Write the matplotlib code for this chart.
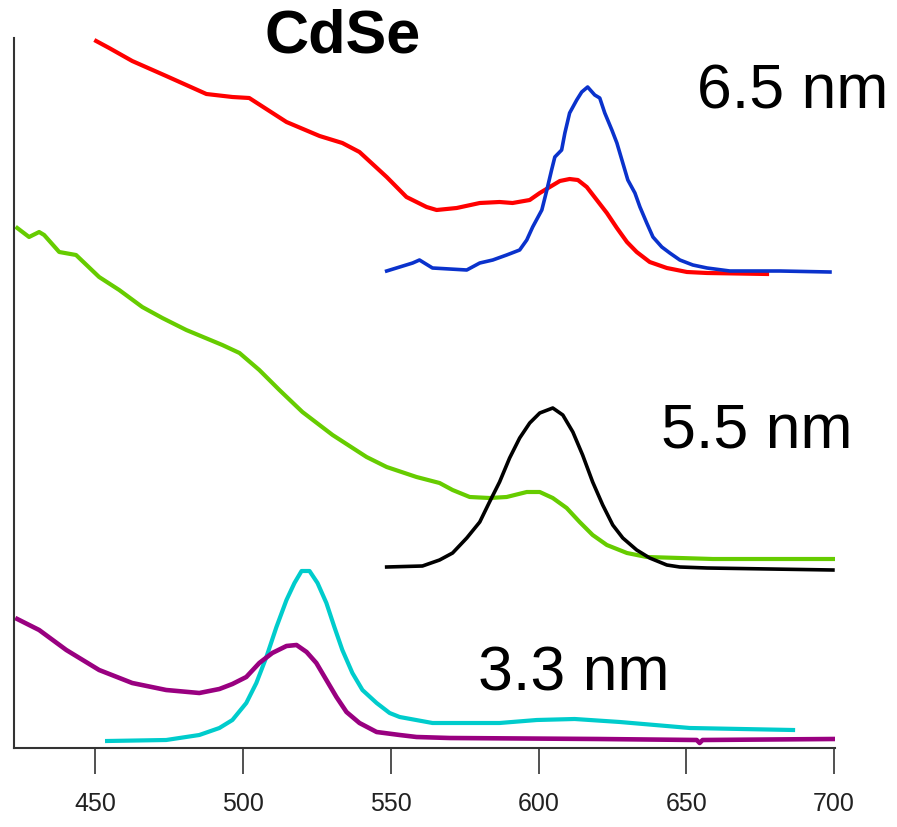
import numpy as np
import matplotlib.pyplot as plt

plt.rcParams['font.family'] = ['Liberation Sans', 'DejaVu Sans']

# 6.5 nm: absorbance (red) and emission (blue)
red_x = [450.3, 454.7, 462.5, 474.0, 487.6, 496.4, 502.1, 514.7, 525.9, 533.6,
         539.4, 548.6, 555.3, 562.1, 565.5, 572.3, 580.1, 586.8, 591.2, 597.0,
         600.4, 603.8, 607.2, 610.5, 613.3, 616.3, 619.7, 623.1, 626.5, 629.9,
         633.2, 637.6, 643.4, 650.2, 657.0, 677.3]
red_y = [707, 700, 687, 672, 654, 651, 650, 626, 612, 605,
         596, 571, 551, 541, 538, 540, 545, 546, 545, 548,
         555, 561, 567, 569, 568, 561, 548, 535, 520, 506,
         496, 486, 480, 476, 475, 474]

blue_x = [548.6, 557.4, 559.7, 564.1, 575.7, 580.1, 584.5, 589.2, 593.6, 596.0,
          598.0, 601.1, 602.8, 604.4, 605.5, 607.8, 608.9, 610.5, 612.9, 614.6,
          616.6, 619.0, 620.7, 622.4, 624.8, 626.5, 628.5, 630.2, 632.6, 634.3,
          636.6, 638.7, 641.7, 644.4, 647.8, 652.2, 657.0, 664.7, 681.7, 698.6]
blue_y = [477, 485, 488, 480, 478, 485, 488, 493, 498, 508,
          521, 538, 558, 578, 591, 598, 615, 635, 648, 656,
          661, 653, 650, 635, 618, 605, 585, 568, 555, 541,
          525, 511, 501, 495, 488, 483, 480, 477, 477, 476]

# 5.5 nm: absorbance (green) and emission (black)
green_x = [423.6, 427.6, 431.0, 432.7, 437.8, 443.5, 451.3, 458.1, 465.9, 472.7,
           480.8, 493.0, 498.8, 505.5, 512.3, 520.1, 530.3, 541.8, 548.6, 558.7,
           566.5, 570.9, 576.7, 583.4, 589.2, 596.0, 600.4, 604.8, 609.5, 613.9,
           618.3, 623.1, 629.9, 636.6, 647.8, 659.0, 699.6]
green_y = [520, 511, 516, 513, 496, 493, 471, 458, 441, 430,
           418, 403, 395, 378, 358, 336, 313, 291, 281, 271,
           265, 258, 251, 250, 251, 256, 256, 250, 240, 226,
           213, 203, 195, 191, 190, 189, 189]

black_x = [548.6, 560.7, 566.5, 570.9, 575.7, 580.1, 583.4, 586.8, 590.2, 593.6,
           597.0, 600.4, 604.8, 608.2, 611.6, 614.9, 618.3, 621.7, 625.1, 628.5,
           633.2, 637.6, 643.4, 647.8, 657.0, 699.6]
black_y = [181, 182, 188, 195, 210, 226, 246, 266, 290, 310,
           325, 335, 340, 333, 316, 293, 266, 243, 223, 210,
           198, 190, 183, 181, 180, 178]

# 3.3 nm: absorbance (purple) and emission (cyan)
purple_x = [423.6, 431.0, 440.2, 451.3, 462.5, 474.0, 485.2, 492.0, 496.4, 501.1,
            505.5, 509.9, 514.7, 518.1, 521.5, 524.8, 528.2, 531.6, 535.0, 539.4,
            545.2, 553.0, 558.7, 569.9, 620.0, 653.5, 654.5, 655.5, 699.6]
purple_y = [129, 118, 98, 78, 65, 58, 55, 59, 64, 71,
            85, 95, 102, 103, 96, 85, 68, 51, 36, 25,
            16, 13, 11, 10, 9, 8, 5, 8, 9]

cyan_x = [454.0, 474.0, 485.2, 492.0, 496.4, 501.1, 504.5, 507.9, 511.3, 514.7,
          517.4, 519.8, 522.5, 525.2, 528.2, 530.9, 533.6, 537.0, 540.4, 545.2,
          549.6, 553.0, 564.1, 586.8, 599.4, 612.2, 627.5, 651.2, 686.1]
cyan_y = [7, 8, 13, 20, 28, 45, 65, 91, 121, 148,
          165, 177, 177, 165, 145, 121, 98, 75, 58, 45,
          35, 31, 25, 25, 28, 29, 26, 20, 18]

ticks = [450, 500, 550, 600, 650, 700]

fig = plt.figure(figsize=(8.97, 8.27), dpi=100)
ax = fig.add_axes([14 / 897, 79 / 827, 821 / 897, 710 / 827])

ax.plot(red_x, red_y, color='#ff0000', lw=3.0, clip_on=False)
ax.plot(blue_x, blue_y, color='#0a32cc', lw=2.6, clip_on=False)
ax.plot(green_x, green_y, color='#66cc00', lw=3.0)
ax.plot(black_x, black_y, color='black', lw=2.6)
ax.plot(cyan_x, cyan_y, color='#00cccc', lw=3.0)
ax.plot(purple_x, purple_y, color='#990080', lw=3.3)

ax.set_xlim(422.5, 700.3)
ax.set_ylim(0, 710)

for s in ['top', 'right']:
    ax.spines[s].set_visible(False)
for s in ['left', 'bottom']:
    ax.spines[s].set_color('#333333')
    ax.spines[s].set_linewidth(1.5)

ax.set_yticks([])
ax.set_xticks(ticks)
ax.set_xticklabels([str(t) for t in ticks], fontsize=18, color='#222222')
ax.tick_params(axis='x', direction='out', length=19, width=1.2,
               color='#333333', pad=13)

ax.text(343 / 897, 1 - 37 / 827, 'CdSe', transform=fig.transFigure,
        ha='center', va='center', fontsize=44, fontweight='bold')
ax.text(793 / 897, 1 - 92 / 827, '6.5 nm', transform=fig.transFigure,
        ha='center', va='center', fontsize=45)
ax.text(757 / 897, 1 - 431 / 827, '5.5 nm', transform=fig.transFigure,
        ha='center', va='center', fontsize=45)
ax.text(574 / 897, 1 - 674 / 827, '3.3 nm', transform=fig.transFigure,
        ha='center', va='center', fontsize=45)

fig.savefig('out.png', dpi=100)
